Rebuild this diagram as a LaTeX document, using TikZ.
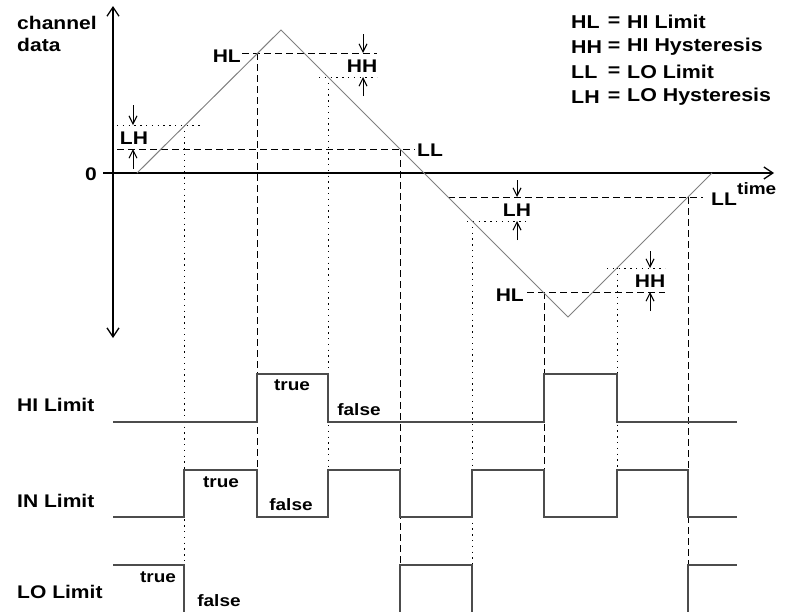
\documentclass[tikz,border=0pt]{standalone}
\usepackage{fontspec}
\setmainfont{Liberation Sans}[FakeStretch=1.15]
\usetikzlibrary{arrows.meta}
\tikzset{
  axtip/.tip={Straight Barb[length=9pt,width=12pt,line width=1.3pt]},
  anntip/.tip={Straight Barb[length=8pt,width=8pt,line width=1.1pt]}
}
\begin{document}
\begin{tikzpicture}[x=1pt,y=-1pt,
  lab/.style={font=\fontsize{18.3}{20}\selectfont\bfseries, inner sep=0pt},
  leg/.style={font=\fontsize{18.6}{21}\selectfont\bfseries, inner sep=0pt},
  sm/.style={font=\fontsize{16.5}{18}\selectfont\bfseries, inner sep=0pt},
  axis/.style={line width=1.2pt, black},
  wave/.style={line width=1pt, black!50},
  sig/.style={line width=1.3pt, black!70},
  dsh/.style={line width=1pt, black, dash pattern=on 7pt off 4pt},
  dtt/.style={line width=1pt, black, dash pattern=on 1.3pt off 4.5pt},
  ann/.style={line width=1pt, black, -anntip}
]
\useasboundingbox (0,0) rectangle (786,611);

% axes
\coordinate (ytop) at (113,6);
\coordinate (ybot) at (113,338);
\coordinate (xl) at (103,173);
\coordinate (xr) at (774,173);
\draw[axis, axtip-axtip] (ybot) -- (ytop);
\draw[axis, -axtip] (xl) -- (xr);

% level lines (positive half)
\draw[dsh] (242,53) -- (377,53);
\draw[dtt] (319,77) -- (377,77);
\draw[dtt] (117,125) -- (203,125);
\draw[dsh] (117,149) -- (415,149);
% level lines (negative half)
\draw[dsh] (448,197) -- (703,197);
\draw[dtt] (467,221) -- (528,221);
\draw[dsh] (527,292) -- (665,292);
\draw[dtt] (607,268) -- (665,268);

% vertical projections
\draw[dtt] (184,125) -- (184,565);
\draw[dsh] (257,53) -- (257,470);
\draw[dtt] (328,77) -- (328,470);
\draw[dsh] (400,149) -- (400,565);
\draw[dtt] (472,221) -- (472,565);
\draw[dsh] (544,292) -- (544,470);
\draw[dtt] (617,268) -- (617,470);
\draw[dsh] (688,197) -- (688,565);

% triangle wave
\coordinate (w0) at (137,173);
\coordinate (wpk) at (281,30);
\coordinate (wtr) at (568,317);
\coordinate (wend) at (712,173);
\draw[wave] (w0) -- (wpk) -- (wtr) -- (wend);

% hysteresis arrows
\draw[ann] (133,105) -- (133,125);
\draw[ann] (133,169) -- (133,149);
\draw[ann] (363,34) -- (363,53);
\draw[ann] (363,96) -- (363,77);
\draw[ann] (517,180) -- (517,197);
\draw[ann] (517,240) -- (517,221);
\draw[ann] (650,251) -- (650,268);
\draw[ann] (650,311) -- (650,292);

% plot labels
\node[lab, anchor=west] (ch) at (17,23) {channel};
\node[lab, anchor=west] (da) at (17,45) {data};
\node[lab] (zero) at (91,174) {0};
\node[lab, anchor=east] (hl1) at (241,56) {HL};
\node[lab] (lh1) at (134,138) {LH};
\node[lab] (hh1) at (362,66) {HH};
\node[lab, anchor=west] (ll1) at (417,150) {LL};
\node[lab] (lh2) at (517,210) {LH};
\node[lab, anchor=east] (hl2) at (524,295) {HL};
\node[lab] (hh2) at (650,281) {HH};
\node[lab, anchor=west] (ll2) at (711,199) {LL};
\node[sm, anchor=west] (time) at (737,189) {time};

% legend
\foreach \k/\yy/\a/\b in {a/22/HL/HI Limit, b/47/HH/HI Hysteresis, c/72/LL/LO Limit, d/97/LH/LO Hysteresis}{
  \node[leg, anchor=west] (lk\k) at (571,\yy) {\a};
  \node[leg] (le\k) at (614,\yy) {=};
  \node[leg, anchor=west] (lv\k) at (627,\yy) {\b};
}

% signals
\draw[sig] (113,422) -| (257,374) -| (328,422) -| (544,374) -| (617,422) -- (737,422);
\draw[sig] (113,517) -| (184,470) -| (257,517) -| (328,470) -| (400,517) -| (472,470) -| (544,517) -| (617,470) -| (688,517) -- (737,517);
\draw[sig] (113,565) -| (184,612);
\draw[sig] (400,612) |- (472,565) -- (472,612);
\draw[sig] (688,612) |- (737,565);

% signal labels
\node[lab, anchor=west] (hi) at (17,405) {HI Limit};
\node[lab, anchor=west] (in) at (17,501) {IN Limit};
\node[lab, anchor=west] (lo) at (17,592) {LO Limit};
\node[sm] (t1) at (292,385) {true};
\node[sm] (f1) at (359,410) {false};
\node[sm] (t2) at (221,482) {true};
\node[sm] (f2) at (291,505) {false};
\node[sm] (t3) at (158,577) {true};
\node[sm] (f3) at (219,601) {false};
\end{tikzpicture}
\end{document}
